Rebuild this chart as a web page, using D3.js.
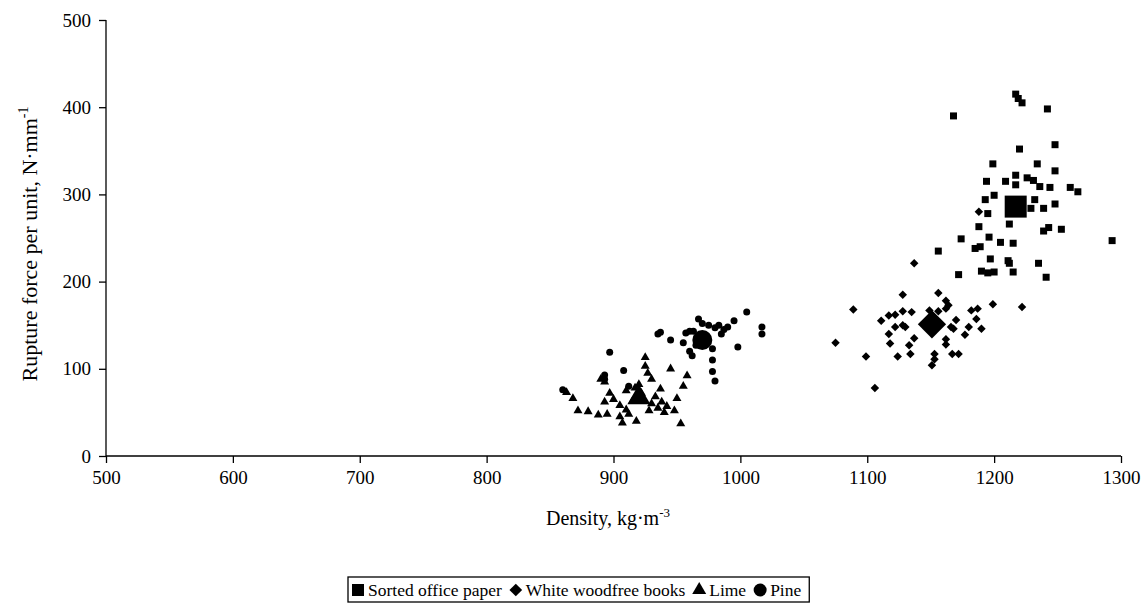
<!DOCTYPE html>
<html>
<head>
<meta charset="utf-8">
<script src="https://cdn.jsdelivr.net/npm/d3@7"></script>
<style>
  body { margin: 0; background: #fff; }
  text { font-family: "Liberation Serif", "Times New Roman", serif; fill: #000; }
</style>
</head>
<body>
<svg id="chart" width="1147" height="615"></svg>
<script>
// Sorted office paper (squares)
const officePaper = [
    [1168, 390], [1217, 415], [1219, 410], [1222, 405], [1242, 398],
    [1220, 352], [1248, 357], [1199, 335], [1234, 335], [1248, 327],
    [1217, 322], [1194, 315], [1209, 315], [1217, 311], [1226, 319],
    [1231, 316], [1236, 309], [1244, 308], [1260, 308], [1266, 303],
    [1193, 294], [1200, 299], [1232, 294], [1229, 284], [1239, 284],
    [1248, 289], [1195, 278], [1188, 263], [1212, 266], [1239, 258],
    [1243, 262], [1253, 260], [1196, 251], [1174, 249], [1185, 238],
    [1189, 240], [1205, 245], [1215, 244], [1293, 247], [1156, 235],
    [1197, 226], [1211, 224], [1212, 221], [1235, 221], [1190, 212],
    [1195, 210], [1200, 211], [1215, 211], [1241, 205], [1172, 208]
];
const officePaperMean = [[1217, 286]];

// White woodfree books (diamonds)
const woodfreeBooks = [
    [1188, 280], [1137, 221], [1128, 185], [1156, 187], [1162, 178],
    [1164, 173], [1162, 169], [1089, 168], [1199, 174], [1222, 171],
    [1128, 166], [1135, 165], [1149, 167], [1156, 166], [1117, 161],
    [1122, 162], [1111, 155], [1182, 167], [1187, 169], [1186, 157],
    [1170, 156], [1122, 148], [1128, 150], [1130, 148], [1166, 148],
    [1168, 146], [1180, 148], [1190, 146], [1117, 140], [1118, 129],
    [1137, 135], [1133, 127], [1177, 139], [1162, 134], [1162, 128],
    [1099, 114], [1124, 114], [1134, 117], [1153, 117], [1153, 111],
    [1151, 104], [1167, 117], [1172, 117], [1106, 78], [1075, 130]
];
const woodfreeBooksMean = [[1151, 151]];

// Lime (triangles)
const lime = [
    [863, 73], [868, 66], [872, 52], [880, 51], [890, 88], [893, 85],
    [893, 62], [897, 72], [888, 47], [895, 48], [900, 65], [905, 58],
    [907, 38], [910, 75], [912, 48], [915, 63], [917, 78], [918, 40],
    [920, 82], [922, 72], [925, 113], [925, 103], [927, 95], [930, 88],
    [928, 52], [930, 60], [933, 68], [935, 55], [937, 77], [938, 62],
    [940, 50], [942, 57], [945, 100], [948, 52], [950, 66], [953, 37],
    [955, 80], [958, 92], [910, 53], [905, 45]
];
const limeMean = [[920, 67]];

// Pine (circles)
const pine = [
    [860, 76], [893, 93], [893, 88], [897, 119], [908, 98], [912, 80],
    [935, 140], [937, 142], [945, 133], [957, 141], [960, 143], [963, 143],
    [967, 157], [970, 152], [975, 150], [980, 147], [983, 150], [987, 145],
    [990, 148], [995, 155], [1005, 165], [1017, 148], [1017, 140], [998, 125],
    [978, 123], [978, 110], [978, 97], [980, 86], [960, 120], [965, 127],
    [955, 130], [972, 138], [985, 140], [962, 115]
];
const pineMean = [[970, 133]];

const xTicks = [500, 600, 700, 800, 900, 1000, 1100, 1200, 1300];
const yTicks = [0, 100, 200, 300, 400, 500];
const legendLabels = ["Sorted office paper", "White woodfree books", "Lime", "Pine"];

const svg = d3.select("#chart");
const margin = { left: 106, right: 26, top: 20, bottom: 159 };
const width = 1147 - margin.left - margin.right;
const height = 615 - margin.top - margin.bottom;

const x = d3.scaleLinear().domain([500, 1300]).range([0, width]);
const y = d3.scaleLinear().domain([0, 500]).range([height, 0]);

const g = svg.append("g").attr("transform", `translate(${margin.left},${margin.top})`);

// Axes
const xAxis = g.append("g")
    .attr("transform", `translate(0,${height})`)
    .call(d3.axisBottom(x).tickValues(xTicks).tickSize(7).tickPadding(8).tickFormat(d3.format("d")));
const yAxis = g.append("g")
    .call(d3.axisLeft(y).tickValues(yTicks).tickSize(7).tickPadding(8).tickFormat(d3.format("d")));
[xAxis, yAxis].forEach(ax => {
    ax.selectAll("text").style("font-size", "19px").style("font-family", "Liberation Serif");
    ax.select(".domain").attr("stroke", "#000").attr("stroke-width", 1.3);
    ax.selectAll(".tick line").attr("stroke", "#000").attr("stroke-width", 1.3);
});
xAxis.select(".domain").attr("d", `M0,0H${width}`);
yAxis.select(".domain").attr("d", `M0,${height}V0`);

// Axis titles
const xTitle = svg.append("text")
    .attr("x", 608)
    .attr("y", 525)
    .attr("text-anchor", "middle")
    .style("font-size", "20px");
xTitle.append("tspan").text("Density, kg\u00b7m");
xTitle.append("tspan").attr("dy", -8).style("font-size", "13px").text("-3");

const yTitle = svg.append("text")
    .attr("transform", `translate(37,${margin.top + height / 2 + 6}) rotate(-90)`)
    .attr("text-anchor", "middle")
    .style("font-size", "22px");
yTitle.append("tspan").text("Rupture force per unit, N\u00b7mm");
yTitle.append("tspan").attr("dy", -9).style("font-size", "14px").text("-1");

// Symbols
const squarePath = s => d3.symbol(d3.symbolSquare, s * s)();
const diamondPath = s => d3.symbol(d3.symbolSquare, s * s)();
const trianglePath = s => d3.symbol(d3.symbolTriangle, s * s * Math.sqrt(3) / 4)();
const circlePath = s => d3.symbol(d3.symbolCircle, Math.PI * s * s / 4)();

const series = [
    { data: pine, mean: pineMean, path: circlePath, small: 7, big: 20, rot: 0 },
    { data: lime, mean: limeMean, path: trianglePath, small: 9, big: 23, rot: 0 },
    { data: woodfreeBooks, mean: woodfreeBooksMean, path: diamondPath, small: 6, big: 20, rot: 45 },
    { data: officePaper, mean: officePaperMean, path: squarePath, small: 7, big: 22, rot: 0 }
];

series.forEach(s => {
    g.append("g").selectAll("path")
        .data(s.data)
        .join("path")
        .attr("d", s.path(s.small))
        .attr("transform", d => `translate(${x(d[0])},${y(d[1])}) rotate(${s.rot})`)
        .attr("fill", "#000");
    g.append("g").selectAll("path")
        .data(s.mean)
        .join("path")
        .attr("d", s.path(s.big))
        .attr("transform", d => `translate(${x(d[0])},${y(d[1])}) rotate(${s.rot})`)
        .attr("fill", "#000");
});

// Legend
const legend = svg.append("g").attr("transform", "translate(348,577)");
const legendBox = legend.append("rect")
    .attr("height", 25)
    .attr("fill", "#fff").attr("stroke", "#000").attr("stroke-width", 1.3);
const legendSymbols = [
    { path: squarePath(12), rot: 0 },
    { path: diamondPath(9), rot: 45 },
    { path: trianglePath(14), rot: 0 },
    { path: circlePath(13), rot: 0 }
];
let cx = 0;
legendLabels.forEach((label, i) => {
    legend.append("path")
        .attr("d", legendSymbols[i].path)
        .attr("transform", `translate(${cx + 10},13) rotate(${legendSymbols[i].rot})`)
        .attr("fill", "#000");
    const t = legend.append("text")
        .attr("x", cx + 20)
        .attr("y", 19)
        .style("font-size", "17.5px")
        .text(label);
    cx += 20 + t.node().getComputedTextLength() + 4;
});
legendBox.attr("width", cx + 4);
</script>
</body>
</html>
